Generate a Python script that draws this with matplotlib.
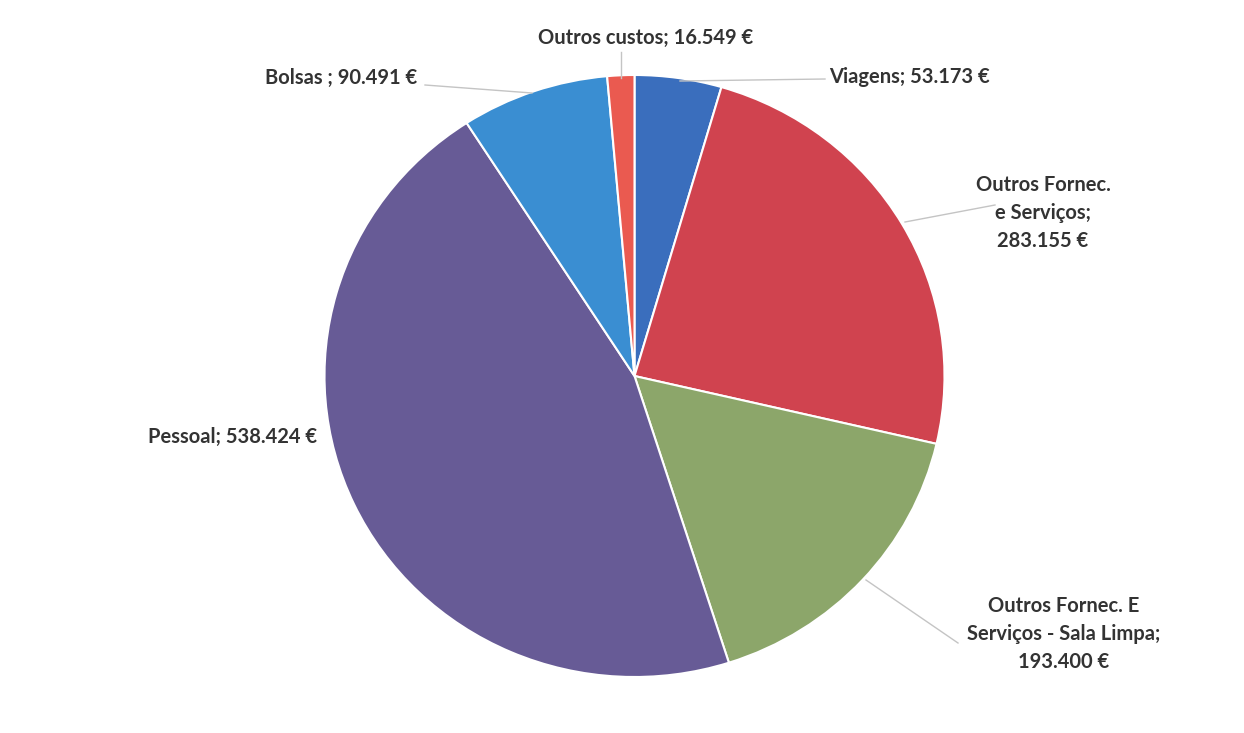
import matplotlib.pyplot as plt

labels = ['Viagens', 'Outros Fornec.\ne Serviços', 'Outros Fornec. E\nServiços - Sala Limpa',
          'Pessoal', 'Bolsas ', 'Outros custos']
values = [53173, 283155, 193400, 538424, 90491, 16549]
colors = ['#3a6ebd', '#d0434f', '#8ca66a', '#675b96', '#3a8ed2', '#ea5a50']

W, H = 1244, 733
cx, cy, rx, ry = 634.5, 376, 310, 301

fig = plt.figure(figsize=(W / 100, H / 100), dpi=100)
ax = fig.add_axes([0, 0, 1, 1])
ax.pie(values, colors=colors, startangle=90, counterclock=False, radius=1,
       wedgeprops=dict(edgecolor='white', linewidth=1.5))
ax.set_aspect('auto')
ax.set_xlim(-cx / rx, (W - cx) / rx)
ax.set_ylim(-(H - cy) / ry, cy / ry)
ax.axis('off')


def p(px, py):
    return (px - cx) / rx, (cy - py) / ry


def fmt(v):
    return f'{v:,}'.replace(',', '.') + ' €'


# label positions (pixels) and leader lines
spots = [
    (829, 77, 'left', [(825, 79), (680, 81)], False),
    (1043, 213, 'center', [(995, 205), (905, 222)], True),
    (1064, 634, 'center', [(958, 643), (866, 580)], True),
    (233, 437, 'center', None, False),
    (341, 78, 'center', [(425, 85), (532, 93)], False),
    (646, 38, 'center', [(621, 52), (621, 78)], False),
]

for lab, v, (x, y, ha, line, multi) in zip(labels, values, spots):
    txt = lab + (';\n' if multi else '; ') + fmt(v)
    ax.text(*p(x, y), txt, ha=ha, va='center', ma='center', fontsize=14.5,
            fontweight='bold', family=['Lato', 'DejaVu Sans'], color='#333333',
            linespacing=1.5)
    if line:
        (x0, y0), (x1, y1) = line
        a, b = p(x0, y0)
        c, d = p(x1, y1)
        ax.plot([a, c], [b, d], color='#c4c4c4', lw=1)

fig.savefig('out.png', dpi=100)
